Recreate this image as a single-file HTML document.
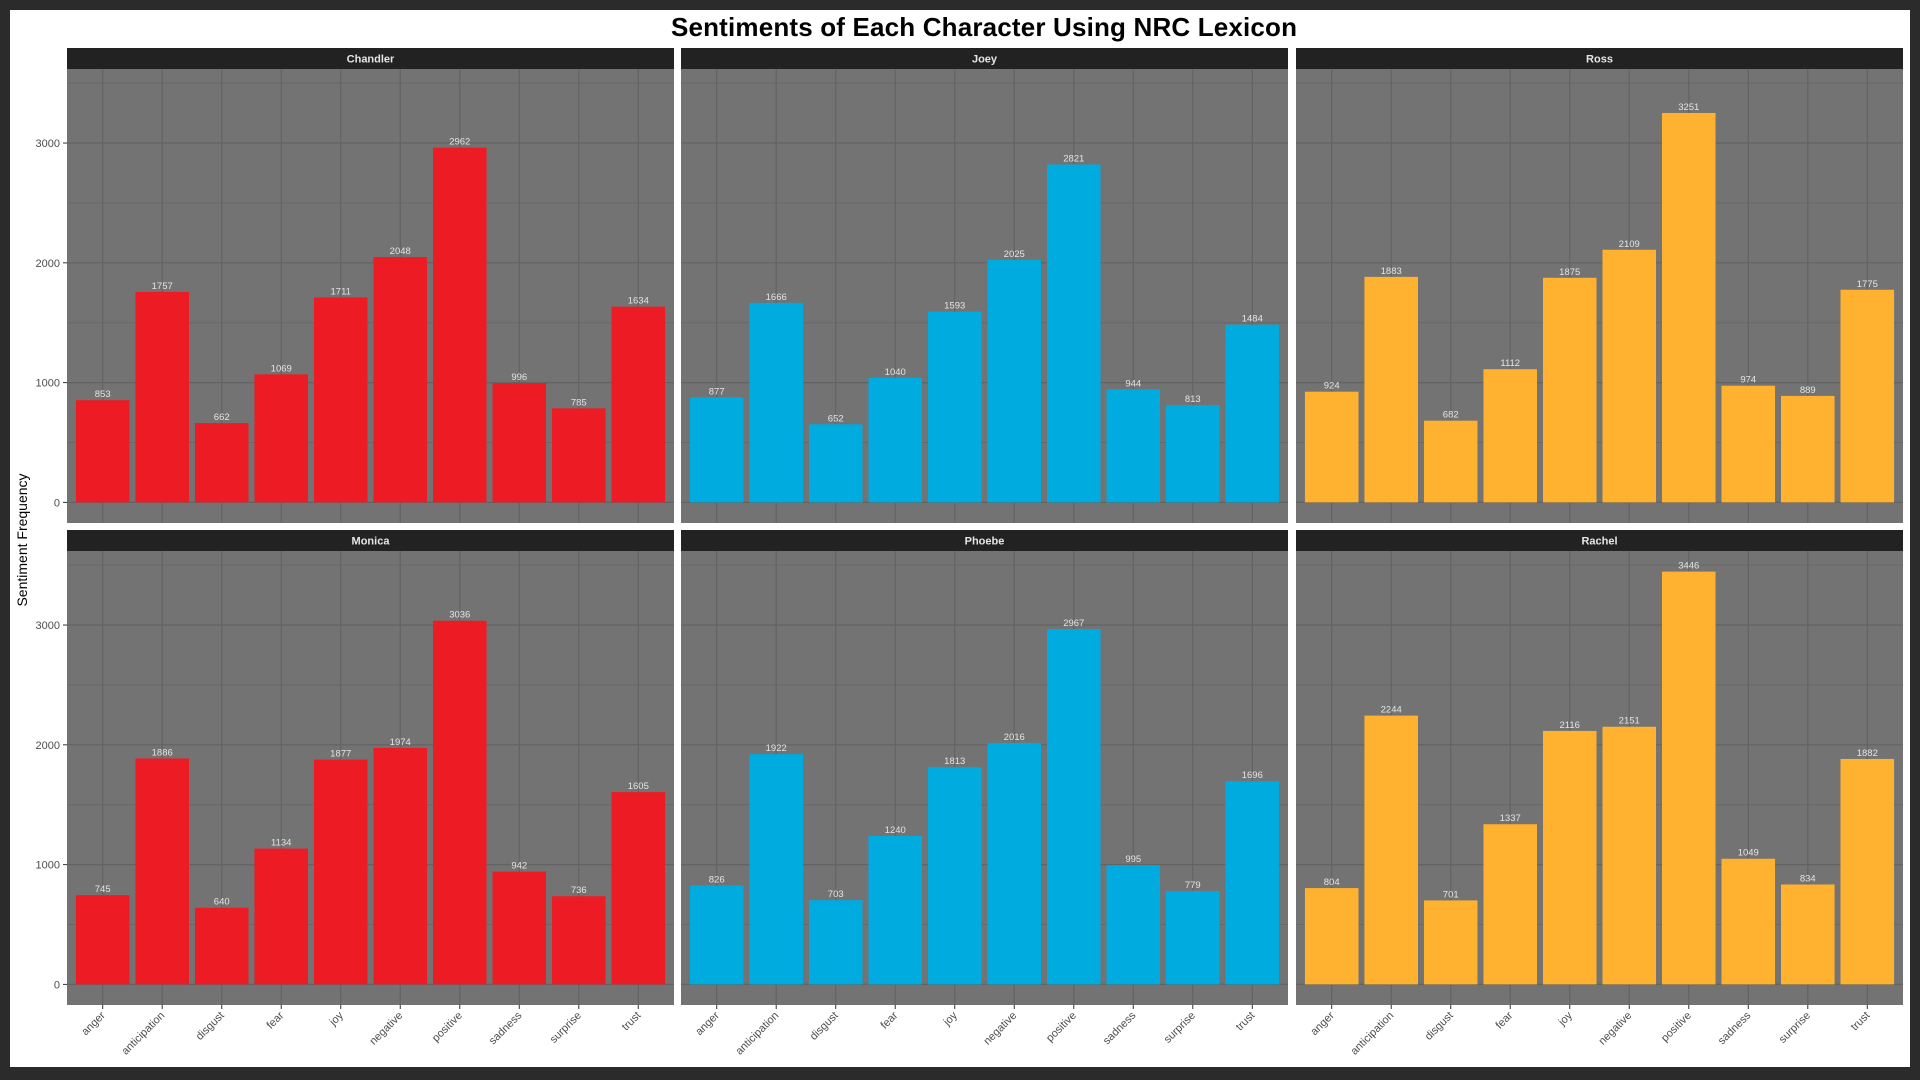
<!DOCTYPE html>
<html><head><meta charset="utf-8"><style>
html,body{margin:0;padding:0;background:#2b2b2b;width:1920px;height:1080px;overflow:hidden}
svg{display:block}
text{font-family:"Liberation Sans",Arial,sans-serif}
</style></head><body>
<svg id="chart" width="1920" height="1080" xmlns="http://www.w3.org/2000/svg">
<rect x="10" y="10" width="1900" height="1057" fill="#ffffff"/>
<text x="984" y="36" text-anchor="middle" font-size="26" font-weight="bold" fill="#000" textLength="626">Sentiments of Each Character Using NRC Lexicon</text>
<text transform="translate(27,540) rotate(-90)" text-anchor="middle" font-size="14" fill="#000">Sentiment Frequency</text>
</svg>
<script>
const categories = ["anger","anticipation","disgust","fear","joy","negative","positive","sadness","surprise","trust"];
const characters = ["Chandler","Joey","Ross","Monica","Phoebe","Rachel"];
const chandlerValues = [853,1757,662,1069,1711,2048,2962,996,785,1634];
const joeyValues = [877,1666,652,1040,1593,2025,2821,944,813,1484];
const rossValues = [924,1883,682,1112,1875,2109,3251,974,889,1775];
const monicaValues = [745,1886,640,1134,1877,1974,3036,942,736,1605];
const phoebeValues = [826,1922,703,1240,1813,2016,2967,995,779,1696];
const rachelValues = [804,2244,701,1337,2116,2151,3446,1049,834,1882];
const yTicks = [0,1000,2000,3000];
const seriesValues = [chandlerValues,joeyValues,rossValues,monicaValues,phoebeValues,rachelValues];
const colors = ["#ed1c24","#00acdf","#ffb22f","#ed1c24","#00acdf","#ffb22f"];

const NS = "http://www.w3.org/2000/svg";
const svg = document.getElementById("chart");
const panelX = [67,681,1296];
const panelW = 607;
const panelTop = [69,551];
const panelH = 454;
const stripH = 21;
const yMin = -172, yMax = 3618;
function mk(tag, attrs, parent){const e=document.createElementNS(NS,tag);for(const k in attrs)e.setAttribute(k,attrs[k]);(parent||svg).appendChild(e);return e;}
function yScale(v, top){return top + panelH - (v - yMin)/(yMax - yMin)*panelH;}
function xScale(i, left){const u = panelW/(categories.length - 1 + 1.2);return left + (0.6 + i)*u;}
const unit = panelW/(categories.length - 1 + 1.2);

for(let p=0;p<6;p++){
  const col=p%3,row=Math.floor(p/3);
  const left=panelX[col], top=panelTop[row];
  const g=mk("g",{});
  
  
  const bg=mk("rect",{x:left,y:top,width:panelW,height:panelH,fill:"#737373"},g);
  
  
  const strip=mk("rect",{x:left,y:top-stripH,width:panelW,height:stripH,fill:"#222222"},g);
  
  
  const st=mk("text",{x:left+panelW/2,y:top-stripH/2+4,"text-anchor":"middle","font-size":11,"font-weight":"bold",fill:"#e6e6e6"},g);
  st.textContent=characters[p];
  
  
  for(let v=500; v<yMax; v+=1000){
    const gl=mk("line",{x1:left,x2:left+panelW,y1:yScale(v,top),y2:yScale(v,top),stroke:"#686868","stroke-width":1},g);
    
    
  }
  yTicks.forEach(t=>{
    const y=yScale(t,top);
    const gl=mk("line",{x1:left,x2:left+panelW,y1:y,y2:y,stroke:"#636363","stroke-width":1.2},g);
    
    
    if(col===0){
      const tk=mk("line",{x1:left-4,x2:left,y1:y,y2:y,stroke:"#333","stroke-width":1},g);
      
      
      const tl=mk("text",{x:left-7,y:y+4,"text-anchor":"end","font-size":11,fill:"#4d4d4d"},g);
      tl.textContent=t;
      
      
    }
  });
  categories.forEach((c,i)=>{
    const cx=xScale(i,left);
    const gl=mk("line",{x1:cx,x2:cx,y1:top,y2:top+panelH,stroke:"#636363","stroke-width":1.2},g);
    
    
  });
  const vals=seriesValues[p];
  categories.forEach((c,i)=>{
    const cx=xScale(i,left), v=vals[i];
    const y0=yScale(0,top), y1=yScale(v,top);
    const b=mk("rect",{x:cx-unit*0.45,y:y1,width:unit*0.9,height:y0-y1,fill:colors[p]},g);
    
    
    const lb=mk("text",{x:cx,y:y1-3,"text-anchor":"middle","font-size":9.5,fill:"#e4e4e4"},g);
    lb.textContent=v;
    
    
    if(row===1){
      const tk=mk("line",{x1:cx,x2:cx,y1:top+panelH,y2:top+panelH+4,stroke:"#333","stroke-width":1},g);
      
      
      const xl=mk("text",{transform:"translate("+(cx+3)+","+(top+panelH+11)+") rotate(-45)","text-anchor":"end","font-size":11,fill:"#4d4d4d"},g);
      xl.textContent=c;
      
      
    }
  });
}
</script>
</body></html>
